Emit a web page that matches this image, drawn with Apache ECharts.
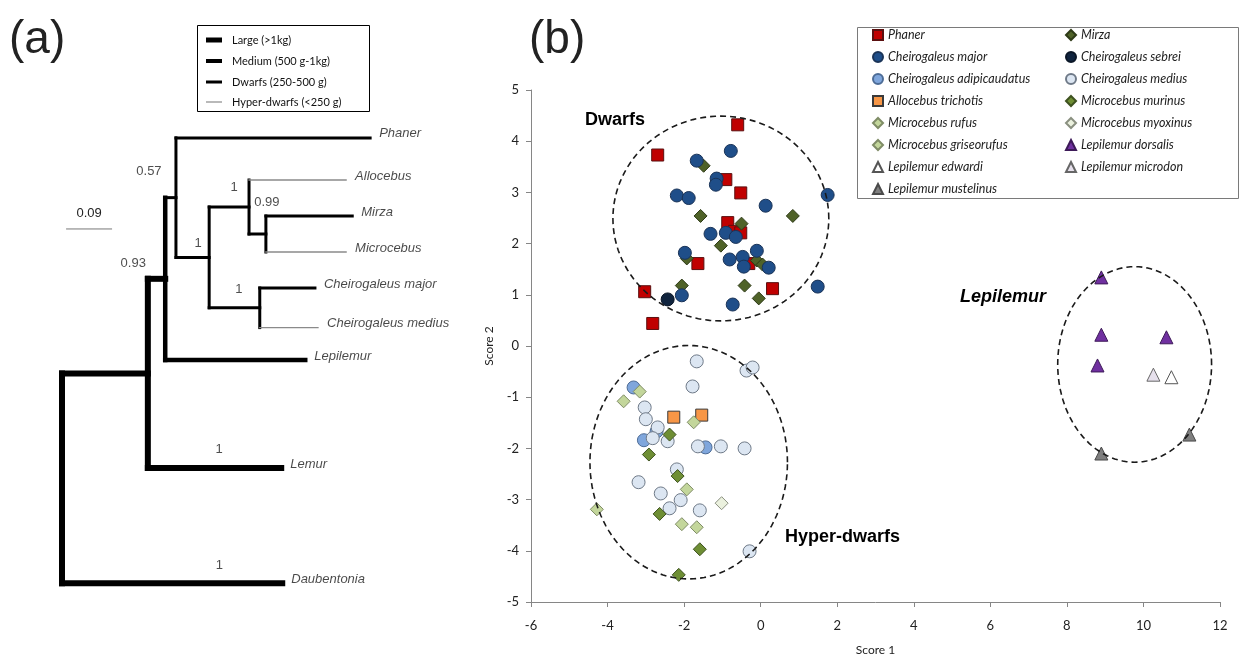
<!DOCTYPE html>
<html><head><meta charset="utf-8">
<script src="https://cdn.jsdelivr.net/npm/echarts@6/dist/echarts.min.js"></script>
<style>html,body{margin:0;padding:0;background:#fff}#c{width:1242px;height:661px}</style>
</head><body><div id="c"></div>
<script>
// ================= Panel (b) data: [Score 1, Score 2] =================
const phaner = [[-0.60,4.32],[-2.69,3.73],[-0.91,3.25],[-0.52,2.99],[-0.86,2.41],[-0.68,2.24],[-0.52,2.21],[-1.64,1.61],[-0.31,1.61],[0.31,1.12],[-3.03,1.06],[-2.82,0.44]];
const mirza = [[-1.49,3.52],[-1.57,2.54],[0.84,2.54],[-0.50,2.39],[-1.04,1.96],[-1.93,1.71],[-0.10,1.67],[0.05,1.59],[-2.06,1.18],[-0.42,1.18],[-0.05,0.93]];
const cMajor = [[-0.78,3.81],[-1.67,3.62],[-1.15,3.27],[-1.17,3.15],[-2.19,2.94],[-1.88,2.89],[0.13,2.74],[1.75,2.95],[-1.31,2.19],[-0.91,2.21],[-0.65,2.13],[-1.98,1.82],[-0.81,1.69],[-0.47,1.74],[-0.10,1.86],[-0.44,1.55],[0.21,1.53],[-2.06,0.99],[-0.73,0.81],[1.49,1.16]];
const cSebrei = [[-2.43,0.91]];
const cAdipicaudatus = [[-3.32,-0.81],[-3.05,-1.84],[-2.72,-1.67],[-1.44,-1.98]];
const cMedius = [[-1.67,-0.30],[-0.37,-0.48],[-0.21,-0.42],[-1.78,-0.79],[-3.03,-1.20],[-3.00,-1.43],[-2.69,-1.59],[-2.82,-1.80],[-2.43,-1.86],[-1.64,-1.96],[-1.04,-1.96],[-0.42,-2.00],[-2.19,-2.41],[-3.19,-2.66],[-2.61,-2.88],[-2.09,-3.01],[-2.38,-3.17],[-1.59,-3.21],[-0.29,-4.01]];
const allocebus = [[-2.27,-1.39],[-1.54,-1.35]];
const mMurinus = [[-2.38,-1.73],[-2.92,-2.12],[-2.17,-2.54],[-2.64,-3.28],[-1.59,-3.97],[-2.14,-4.47]];
const mRufus = [[-3.16,-0.89],[-1.75,-1.49],[-2.06,-3.48],[-4.28,-3.19]];
const mMyoxinus = [[-1.02,-3.07]];
const mGriseorufus = [[-3.58,-1.08],[-1.93,-2.80],[-1.67,-3.54]];
const lDorsalis = [[8.90,1.34],[8.90,0.22],[10.60,0.17],[8.80,-0.38]];
const lEdwardi = [[10.73,-0.61]];
const lMicrodon = [[10.26,-0.56]];
const lMustelinus = [[11.20,-1.73],[8.90,-2.10]];
// group outlines: [centre Score 1, centre Score 2, half-width, half-height]
const groupEllipses = [[-1.04,2.49,2.82,2.0],[-1.88,-2.27,2.58,2.28],[9.77,-0.36,2.01,1.91]];
const xTicks = {min:-6, max:12, step:2};
const yTicks = {min:-5, max:5, step:1};

// ================= Panel (a) data: phylogeny =================
const nodeIds = ['root','n1','n2','n3','n4','n5','n6','n7','Phaner','Allocebus','Mirza','Microcebus','Cheirogaleus major','Cheirogaleus medius','Lepilemur','Lemur','Daubentonia'];
const nodeParent = [null,'root','n1','n2','n3','n4','n5','n4','n3','n5','n6','n6','n7','n7','n2','n1','root'];
const nodeDepth = [0,0.168,0.202,0.223,0.288,0.366,0.399,0.387,0.603,0.556,0.568,0.556,0.495,0.501,0.476,0.429,0.431];
const leafRows = {'Phaner':3.83,'Allocebus':5,'Mirza':6,'Microcebus':7,'Cheirogaleus major':8,'Cheirogaleus medius':9.1,'Lepilemur':10,'Lemur':13,'Daubentonia':16.2};
const branchClass = [null,'L','L','D','D','D','D','D','D','H','D','H','D','H','M','L','L'];
const stemClass = {root:'L',n1:'L',n2:'M',n3:'D',n4:'D',n5:'D',n6:'D',n7:'D'};
const supportNode = ['n2','n3','n4','n5','n6','n7','Lemur','Daubentonia'];
const supportValue = ['0.93','0.57','1','1','0.99','1','1','1'];
const scaleBarLength = 0.09;
const massClasses = ['Large (>1kg)','Medium (500 g-1kg)','Dwarfs (250-500 g)','Hyper-dwarfs (<250 g)'];

// ---- styles ----
const classStyle = {L:{w:6,c:'#000'},M:{w:4.5,c:'#000'},D:{w:3,c:'#000'},H:{w:1.3,c:'#8a8a8a'}};
const supportOffsets = [[-32,-15],[-27,-26],[-11,-14],[-15,-20],[1,-32],[-21,-18],[-62,-19],[-63,-18]];

// ---- build tree layout ----
const idx = {}; nodeIds.forEach((n,i)=>idx[n]=i);
const children = {}; nodeIds.forEach(n=>children[n]=[]);
nodeParent.forEach((p,i)=>{ if(p) children[p].push(nodeIds[i]); });
const rowOf = {};
function row(n){ if(rowOf[n]!==undefined) return rowOf[n];
  if(children[n].length===0) return rowOf[n]=leafRows[n];
  const rs = children[n].map(row); return rowOf[n]=(Math.min(...rs)+Math.max(...rs))/2; }
nodeIds.forEach(row);
const segs = [];
nodeIds.forEach((n,i)=>{
  const p = nodeParent[i];
  if(p) segs.push([nodeDepth[idx[p]], rowOf[n], nodeDepth[i], rowOf[n], branchClass[i]]);
  if(children[n].length){ const rs = children[n].map(c=>rowOf[c]);
    segs.push([nodeDepth[i], Math.min(...rs), nodeDepth[i], Math.max(...rs), stemClass[n]]); }
});
const leafLabels = nodeIds.filter(n=>children[n].length===0).map(n=>[nodeDepth[idx[n]], rowOf[n], n]);
const supportPts = supportNode.map((n,k)=>({value:[nodeDepth[idx[n]], rowOf[n], supportValue[k]],
  label:{offset:supportOffsets[k]}}));
const scaleRow = 6.36, scaleStart = 0.008;

const SER = [
 ['Phaner', phaner, 'rect', 12, '#C00000', '#5a1010'],
 ['Mirza', mirza, 'diamond', 13, '#4F6228', '#2e3a17'],
 ['Cheirogaleus major', cMajor, 'circle', 13, '#1F4E89', '#1a3357'],
 ['Cheirogaleus sebrei', cSebrei, 'circle', 13, '#10243E', '#0a1626'],
 ['Cheirogaleus adipicaudatus', cAdipicaudatus, 'circle', 13, '#7FA6DC', '#4d6c96'],
 ['Cheirogaleus medius', cMedius, 'circle', 13, '#DCE6F2', '#6f7a88'],
 ['Allocebus trichotis', allocebus, 'rect', 12, '#F79646', '#3a3a3a'],
 ['Microcebus murinus', mMurinus, 'diamond', 13, '#6E8E34', '#3e5220'],
 ['Microcebus rufus', mRufus, 'diamond', 13, '#C3D69B', '#7f8c66'],
 ['Microcebus myoxinus', mMyoxinus, 'diamond', 13, '#EBF1DE', '#8a9080'],
 ['Microcebus griseorufus', mGriseorufus, 'diamond', 13, '#C3D69B', '#7f8c66'],
 ['Lepilemur dorsalis', lDorsalis, 'triangle', 13, '#7030A0', '#3d1a58'],
 ['Lepilemur edwardi', lEdwardi, 'triangle', 13, '#FFFFFF', '#555'],
 ['Lepilemur microdon', lMicrodon, 'triangle', 13, '#E6E0EC', '#666'],
 ['Lepilemur mustelinus', lMustelinus, 'triangle', 13, '#7F7F7F', '#4a4a4a']
];
const scatterSeries = SER.map(s=>({name:s[0], type:'scatter', xAxisIndex:0, yAxisIndex:0, data:s[1],
  symbol:s[2], symbolSize:s[3], itemStyle:{color:s[4], borderColor:s[5], borderWidth:1, opacity:1},
  emphasis:{disabled:true}, z:3}));
const legendCol1 = [0,2,4,6,8,10,12,14].map(i=>({name:SER[i][0], icon:SER[i][2]}));
const legendCol2 = [1,3,5,7,9,11,13].map(i=>({name:SER[i][0], icon:SER[i][2]}));
const legendBase = {orient:'vertical', padding:0, itemWidth:10, itemHeight:10, itemGap:8, selectedMode:false,
  textStyle:{fontFamily:'Lato', fontStyle:'italic', fontSize:12.5, color:'#222', lineHeight:14}};

const axisCommon = {axisLine:{onZero:false, lineStyle:{color:'#868686', width:1}},
  axisTick:{inside:false, length:5, lineStyle:{color:'#868686'}}, splitLine:{show:false},
  axisLabel:{fontFamily:'Lato', fontSize:13, color:'#222'},
  nameTextStyle:{fontFamily:'Lato', fontSize:12, color:'#222'}};

const chart = echarts.init(document.getElementById('c'), null, {renderer:'canvas'});
const legendY = [40,61,82,102];
const legendW = [5,4,3,1.2];
const legendC = ['#000','#000','#000','#8a8a8a'];
const treeLegendGraphics = [{type:'rect', shape:{x:197.5,y:25.5,width:172,height:86}, style:{fill:'#fff', stroke:'#000', lineWidth:1}}];
massClasses.forEach((t,k)=>{
  treeLegendGraphics.push({type:'line', shape:{x1:206,y1:legendY[k],x2:222,y2:legendY[k]}, style:{stroke:legendC[k], lineWidth:legendW[k]}});
  treeLegendGraphics.push({type:'text', x:232, y:legendY[k], style:{text:t, font:'11px Lato', fill:'#111', textVerticalAlign:'middle'}});
});

chart.setOption({
  animation:false,
  backgroundColor:'#fff',
  grid:[{left:531, top:90, width:689, height:513},
        {left:62, top:0, width:511, height:661}],
  xAxis:[Object.assign({type:'value', gridIndex:0, min:xTicks.min, max:xTicks.max, interval:xTicks.step,
          name:'Score 1', nameLocation:'middle', nameGap:42}, axisCommon,
          {axisLabel:Object.assign({}, axisCommon.axisLabel, {margin:17})}),
         {type:'value', gridIndex:1, min:0, max:1, show:false}],
  yAxis:[Object.assign({type:'value', gridIndex:0, min:yTicks.min, max:yTicks.max, interval:yTicks.step,
          name:'Score 2', nameLocation:'middle', nameGap:36, nameRotate:90}, axisCommon,
          {axisLabel:Object.assign({}, axisCommon.axisLabel, {margin:12})}),
         {type:'value', gridIndex:1, min:0, max:661/36, inverse:true, show:false}],
  legend:[Object.assign({left:872, top:28, data:legendCol1}, legendBase),
          Object.assign({left:1065, top:28, data:legendCol2}, legendBase)],
  graphic:[
    {type:'rect', shape:{x:857.5,y:27.5,width:381,height:171}, style:{fill:null, stroke:'#7a7a7a', lineWidth:1}, z:-1},
    {type:'text', x:9, y:40, style:{text:'(a)', font:'46px "Liberation Sans"', fill:'#222', textVerticalAlign:'middle'}},
    {type:'text', x:529, y:40, style:{text:'(b)', font:'46px "Liberation Sans"', fill:'#222', textVerticalAlign:'middle'}},
    {type:'text', x:585, y:120, style:{text:'Dwarfs', font:'bold 18px "Liberation Sans"', fill:'#000', textVerticalAlign:'middle'}},
    {type:'text', x:785, y:537, style:{text:'Hyper-dwarfs', font:'bold 18px "Liberation Sans"', fill:'#000', textVerticalAlign:'middle'}},
    {type:'text', x:960, y:297, style:{text:'Lepilemur', font:'italic bold 18px "Liberation Sans"', fill:'#000', textVerticalAlign:'middle'}},
    {type:'group', children:treeLegendGraphics}
  ],
  series:[
    ...scatterSeries,
    {type:'custom', name:'groups', xAxisIndex:0, yAxisIndex:0, data:groupEllipses, z:5, silent:true,
     encode:{x:0, y:1},
     renderItem:function(params, api){
       const cx=api.value(0), cy=api.value(1), rx=api.value(2), ry=api.value(3);
       const pts=[];
       for(let i=0;i<=120;i++){ const t=i/120*2*Math.PI; pts.push(api.coord([cx+rx*Math.cos(t), cy+ry*Math.sin(t)])); }
       return {type:'polyline', shape:{points:pts}, style:{stroke:'#1a1a1a', lineWidth:1.6, lineDash:[6,4], fill:null}};
     }},
    {type:'custom', name:'tree', xAxisIndex:1, yAxisIndex:1, data:segs, silent:true, clip:false,
     encode:{x:[0,2], y:[1,3]},
     renderItem:function(params, api){
       const p1=api.coord([api.value(0), api.value(1)]), p2=api.coord([api.value(2), api.value(3)]);
       const st=classStyle[segs[params.dataIndex][4]];
       return {type:'line', shape:{x1:p1[0],y1:p1[1],x2:p2[0],y2:p2[1]}, style:{stroke:st.c, lineWidth:st.w, lineCap:'square'}};
     }},
    {type:'scatter', name:'tips', xAxisIndex:1, yAxisIndex:1, data:leafLabels, symbolSize:0, silent:true,
     label:{show:true, position:'right', distance:9, offset:[0,-4], formatter:p=>p.value[2],
       fontFamily:'"Liberation Sans"', fontStyle:'italic', fontSize:13, color:'#1a1a1a'}},
    {type:'scatter', name:'support', xAxisIndex:1, yAxisIndex:1, data:supportPts, symbolSize:0, silent:true,
     label:{show:true, position:'inside', formatter:p=>p.value[2],
       fontFamily:'"Liberation Sans"', fontSize:13, color:'#222'}},
    {type:'custom', name:'scalebar', xAxisIndex:1, yAxisIndex:1, data:[[scaleStart, scaleRow, scaleStart+scaleBarLength, scaleRow]], silent:true,
     renderItem:function(params, api){
       const p1=api.coord([api.value(0), api.value(1)]), p2=api.coord([api.value(2), api.value(3)]);
       return {type:'group', children:[
         {type:'line', shape:{x1:p1[0],y1:p1[1],x2:p2[0],y2:p2[1]}, style:{stroke:'#777', lineWidth:1}},
         {type:'text', x:(p1[0]+p2[0])/2, y:p1[1]-16, style:{text:String(scaleBarLength), font:'13px "Liberation Sans"', fill:'#222', textAlign:'center', textVerticalAlign:'middle'}}
       ]};
     }}
  ]
});
</script></body></html>
